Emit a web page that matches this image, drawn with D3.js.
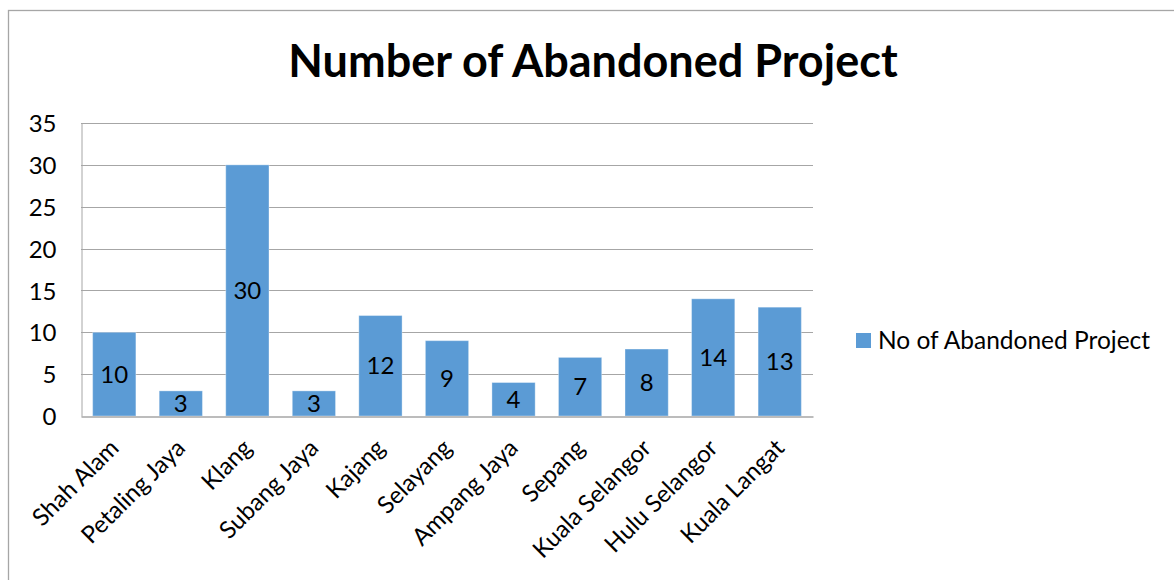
<!DOCTYPE html>
<html>
<head>
<meta charset="utf-8">
<script src="https://cdn.jsdelivr.net/npm/d3@7"></script>
<style>
  html, body { margin: 0; padding: 0; background: #fff; }
  svg { display: block; }
  text { font-family: Lato, "Open Sans", sans-serif; fill: #000; }
</style>
</head>
<body>
<svg id="chart" width="1174" height="580"></svg>
<script>
// Abandoned projects per district
const districts = ["Shah Alam", "Petaling Jaya", "Klang", "Subang Jaya", "Kajang", "Selayang",
                   "Ampang Jaya", "Sepang", "Kuala Selangor", "Hulu Selangor", "Kuala Langat"];
const projectCounts = [10, 3, 30, 3, 12, 9, 4, 7, 8, 14, 13];
const yTicks = [0, 5, 10, 15, 20, 25, 30, 35];
const seriesName = "No of Abandoned Project";
const chartTitle = "Number of Abandoned Project";

const svg = d3.select("#chart");
const barColor = "#5B9BD5";
const gridColor = "#A6A6A6";

// outer chart frame
svg.append("rect")
  .attr("x", 8.5).attr("y", 10.5)
  .attr("width", 1200).attr("height", 600)
  .attr("fill", "none").attr("stroke", "#A6A6A6").attr("stroke-width", 1.3);

const plot = { left: 81, right: 813, top: 123, bottom: 416 };

const x = d3.scaleBand().domain(districts).range([plot.left, plot.right]).paddingInner(0.35).paddingOuter(0.175);
const y = d3.scaleLinear().domain([0, 35]).range([plot.bottom, plot.top]);

// title
svg.append("text")
  .attr("x", 593).attr("y", 77)
  .attr("text-anchor", "middle")
  .style("font-size", "45px").style("font-weight", "bold")
  .text(chartTitle);

// horizontal gridlines
svg.append("g").selectAll("line").data(yTicks.filter(d => d > 0)).join("line")
  .attr("x1", plot.left).attr("x2", plot.right)
  .attr("y1", d => Math.round(y(d)) + 0.5).attr("y2", d => Math.round(y(d)) + 0.5)
  .attr("stroke", gridColor).attr("stroke-width", 1);

// y axis
const yAxis = svg.append("g")
  .attr("transform", `translate(${plot.left + 0.5},0)`)
  .call(d3.axisLeft(y).tickValues(yTicks).tickSize(0).tickPadding(25));
yAxis.select(".domain").attr("stroke", gridColor);
yAxis.selectAll("text").style("font-size", "24px").attr("dy", "0.36em");

// bars
svg.append("g").selectAll("rect").data(projectCounts).join("rect")
  .attr("x", (d, i) => x(districts[i]))
  .attr("y", d => y(d))
  .attr("width", x.bandwidth())
  .attr("height", d => y(0) - y(d))
  .attr("fill", barColor)
  .attr("stroke", "#ffffff").attr("stroke-opacity", 0.35).attr("stroke-width", 1);

// x axis
const xAxis = svg.append("g")
  .attr("transform", `translate(0,${Math.round(plot.bottom) + 0.5})`)
  .call(d3.axisBottom(x).tickSize(0).tickPadding(0));
xAxis.select(".domain").attr("stroke", gridColor).attr("stroke-width", 1.5);
xAxis.selectAll("text")
  .style("font-size", "24px")
  .attr("text-anchor", "end")
  .attr("dy", 0)
  .attr("transform", "translate(6,33) rotate(-45)");

// data labels centered in each bar
svg.append("g").selectAll("text").data(projectCounts).join("text")
  .attr("x", (d, i) => x(districts[i]) + x.bandwidth() / 2)
  .attr("y", d => (y(d) + y(0)) / 2)
  .attr("dy", "0.36em")
  .attr("text-anchor", "middle")
  .style("font-size", "24px")
  .text(d => d);

// legend
const legend = svg.append("g").attr("transform", "translate(856,333)");
legend.append("rect").attr("width", 15).attr("height", 15).attr("fill", barColor);
legend.append("text").attr("x", 22).attr("y", 7.5).attr("dy", "0.36em")
  .style("font-size", "24.5px").text(seriesName);
</script>
</body>
</html>
